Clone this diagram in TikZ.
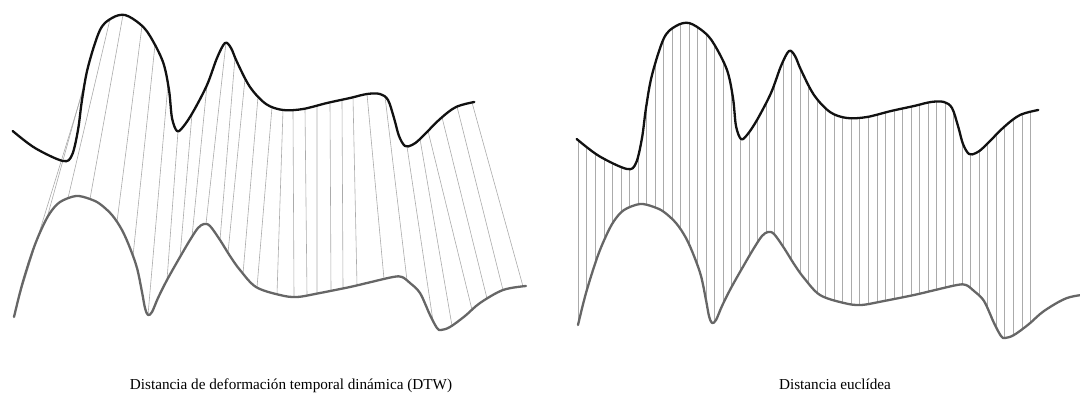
\documentclass[tikz,border=0pt]{standalone}
\usepackage{fontspec}
\setmainfont{Liberation Serif}
\usetikzlibrary{intersections}
\definecolor{topc}{HTML}{111111}
\definecolor{botc}{HTML}{666666}
\definecolor{linkc}{HTML}{ABABAB}
\tikzset{
  topcurve/.style={draw=topc,line width=2.3pt,line cap=round,line join=round},
  botcurve/.style={draw=botc,line width=2.3pt,line cap=round,line join=round},
  link/.style={draw=linkc,line width=0.6pt},
  caption/.style={font=\fontsize{15.2}{18}\selectfont,anchor=base,inner sep=0pt}
}
\newcommand\TopPts{plot[smooth,tension=0.55] coordinates {(12.7,131) (35,148) (63,161) (72,155) (78,130) (82,100) (88,67) (100,30) (112,18) (125,15) (140,24) (150,36) (163,62) (169,90) (172,118) (177,131) (183,127) (193,112) (207,85) (217,58) (225,43) (231,48) (237,62) (250,87) (266,104) (283,110) (303,109) (327,103) (350,98) (367,94) (380,94) (388,100) (394,118) (399,136) (405,146) (412,145) (420,139) (440,119) (456,107) (474.3,102)}}
\newcommand\BotPts{plot[smooth,tension=0.55] coordinates {(14,317) (22,285) (33,250) (42,228) (50,213) (60,202) (76,196) (90,199) (100,204) (112,215) (122,230) (130,248) (137,268) (142,292) (145,308) (148,315) (152,312) (158,298) (167,280) (180,257) (190,240) (198,228) (204,224) (210,226) (220,240) (230,256) (240,270) (256,287) (280,295) (297,297) (320,293) (350,287) (367,283) (393,277) (402,277) (410,283) (420,293) (430,315) (437,328) (441,330) (450,327) (465,316) (480,303) (503,290) (526,286)}}
\begin{document}
\begin{tikzpicture}[x=1pt,y=-1pt]
\useasboundingbox (0,0) rectangle (1080,405);
\clip (0,0) rectangle (1080,405);
% ---------- left panel: DTW ----------
\path[name path=TL] \TopPts;
\path[name path=BL] \BotPts;
\foreach \xt/\xb [count=\i] in {84/17,85/47,110/68,123/90,142/117,155/133,168/148,178/167,192/180,207/192,226/206,235/220,245/228,258/243,272/257,283/277,293/294,305/307,317/317,330/331,342/343,353/357,367/384,385/407,407/433,420/452,428/472,442/487,457/503,472/523}{
  \path[name path=vt] (\xt,0) -- (\xt,405);
  \path[name path=vb] (\xb,0) -- (\xb,405);
  \path[name intersections={of=TL and vt,by={t\i}}];
  \path[name intersections={of=BL and vb,by={b\i}}];
  \draw[link] (t\i) -- (b\i);
}
\draw[botcurve] \BotPts;
\draw[topcurve] \TopPts;
% ---------- right panel: Euclidean ----------
\begin{scope}[shift={(564,8)}]
  \begin{scope}
    \clip plot[smooth,tension=0.55] coordinates {(12.7,131) (35,148) (63,161) (72,155) (78,130) (82,100) (88,67) (100,30) (112,18) (125,15) (140,24) (150,36) (163,62) (169,90) (172,118) (177,131) (183,127) (193,112) (207,85) (217,58) (225,43) (231,48) (237,62) (250,87) (266,104) (283,110) (303,109) (327,103) (350,98) (367,94) (380,94) (388,100) (394,118) (399,136) (405,146) (412,145) (420,139) (440,119) (456,107) (474.3,102)}
      -- plot[smooth,tension=0.55] coordinates {(526,286) (503,290) (480,303) (465,316) (450,327) (441,330) (437,328) (430,315) (420,293) (410,283) (402,277) (393,277) (367,283) (350,287) (320,293) (297,297) (280,295) (256,287) (240,270) (230,256) (220,240) (210,226) (204,224) (198,228) (190,240) (180,257) (167,280) (158,298) (152,312) (148,315) (145,308) (142,292) (137,268) (130,248) (122,230) (112,215) (100,204) (90,199) (76,196) (60,202) (50,213) (42,228) (33,250) (22,285) (14,317)}
      -- cycle;
    \foreach \k in {0,...,53}{
      \draw[link,line width=0.7pt] ({14.3+8.53*\k},-20) -- ({14.3+8.53*\k},420);
    }
  \end{scope}
  \draw[botcurve] \BotPts;
  \draw[topcurve] \TopPts;
\end{scope}
% ---------- captions ----------
\node[caption] (capL) at (291,389) {Distancia de deformación temporal dinámica (DTW)};
\node[caption] (capR) at (835,389) {Distancia euclídea};
\end{tikzpicture}
\end{document}
